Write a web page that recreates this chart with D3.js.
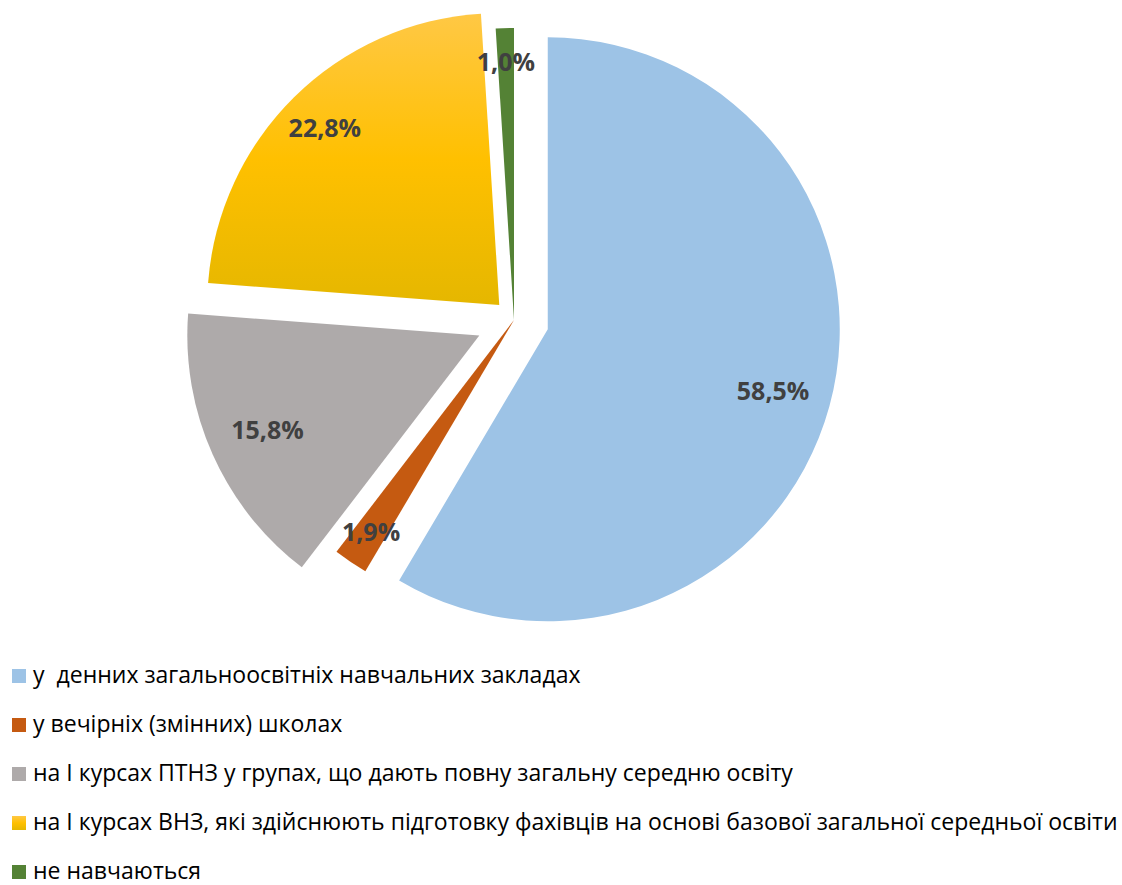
<!DOCTYPE html>
<html>
<head>
<meta charset="utf-8">
<script src="https://cdn.jsdelivr.net/npm/d3@7/dist/d3.min.js"></script>
<style>
  html, body { margin: 0; padding: 0; background: #ffffff; }
  svg { display: block; }
  text { white-space: pre; }
</style>
</head>
<body>
<svg id="chart" width="1122" height="885"></svg>
<script>
// ---- data ----
const categories = [
  "у  денних загальноосвітніх навчальних закладах",
  "у вечірніх (змінних) школах",
  "на І курсах ПТНЗ у групах, що дають повну загальну середню освіту",
  "на І курсах ВНЗ, які здійснюють підготовку фахівців на основі базової загальної середньої освіти",
  "не навчаються"
];
const values = [58.5, 1.9, 15.8, 22.8, 1.0];
const valueLabels = ["58,5%", "1,9%", "15,8%", "22,8%", "1,0%"];

// ---- styles / layout ----
const colors = ["#9DC3E6", "#C55A11", "#AEAAAA", "url(#yellowGrad)", "#548235"];
const explode = [35, 0, 38, 21, 0];
const labelRatio = [0.80, 0.875, 0.795, 0.85, 0.885];
const cx = 514, cy = 320, R = 292;

const svg = d3.select("#chart");
const defs = svg.append("defs");
const grad = defs.append("linearGradient")
  .attr("id", "yellowGrad").attr("x1", 0).attr("y1", 0).attr("x2", 0).attr("y2", 1);
grad.append("stop").attr("offset", "0%").attr("stop-color", "#FFC845");
grad.append("stop").attr("offset", "50%").attr("stop-color", "#FFC000");
grad.append("stop").attr("offset", "100%").attr("stop-color", "#E5B700");

const pie = d3.pie().sort(null).value(d => d).startAngle(0).endAngle(2 * Math.PI);
const arcs = pie(values);
const arcGen = d3.arc().innerRadius(0).outerRadius(R);

const g = svg.append("g").attr("transform", `translate(${cx},${cy})`);

const slice = g.selectAll("g.slice").data(arcs).enter().append("g")
  .attr("class", "slice")
  .attr("transform", (d, i) => {
    const mid = (d.startAngle + d.endAngle) / 2;
    return `translate(${Math.sin(mid) * explode[i]},${-Math.cos(mid) * explode[i]})`;
  });

slice.append("path")
  .attr("d", arcGen)
  .attr("fill", (d, i) => colors[i]);

slice.append("text")
  .attr("transform", (d, i) => {
    const r = labelRatio[i] * R;
    const c = d3.arc().innerRadius(r).outerRadius(r).centroid(d);
    return `translate(${c[0]},${c[1]})`;
  })
  .attr("text-anchor", "middle")
  .attr("dy", "0.36em")
  .attr("font-family", "'Open Sans', sans-serif")
  .attr("font-weight", "bold")
  .attr("font-size", 25)
  .attr("fill", "#404040")
  .text((d, i) => valueLabels[i]);

// ---- legend ----
const legendY = d3.scalePoint().domain(d3.range(categories.length)).range([668, 864]);
const legend = svg.append("g");
const items = legend.selectAll("g").data(categories).enter().append("g")
  .attr("transform", (d, i) => `translate(12,${legendY(i)})`);
items.append("rect")
  .attr("y", 1)
  .attr("width", 14).attr("height", 14)
  .attr("fill", (d, i) => colors[i]);
const texts = items.append("text")
  .attr("x", 21).attr("y", 15)
  .attr("font-family", "'Open Sans', sans-serif")
  .attr("font-size", 20)
  .attr("fill", "#000000")
  .text(d => d);

// fit longest legend line to available width
let maxW = 0;
texts.each(function () { maxW = Math.max(maxW, this.getComputedTextLength()); });
const targetW = 1085;
const fs = 20 * targetW / maxW;
texts.attr("font-size", fs);
</script>
</body>
</html>
